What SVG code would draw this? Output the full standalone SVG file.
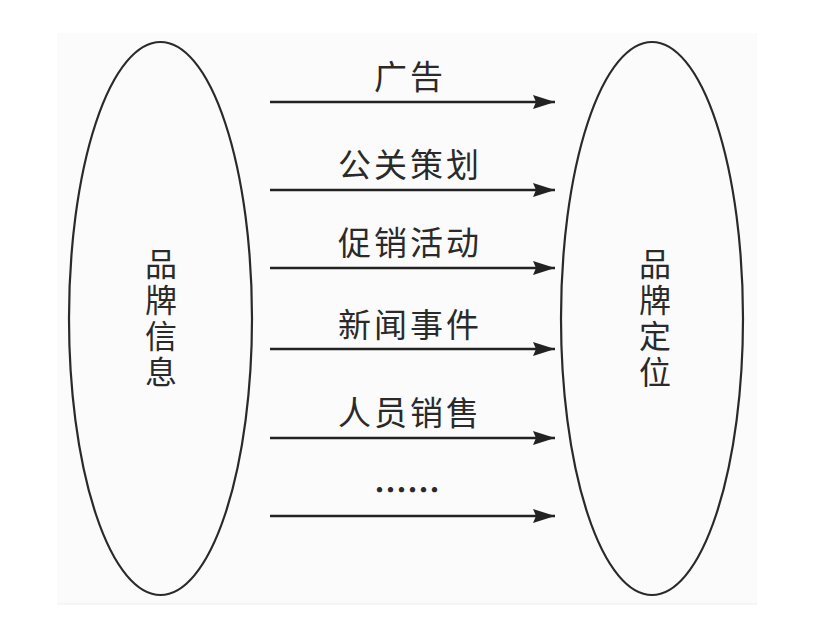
<svg xmlns="http://www.w3.org/2000/svg" width="815" height="640" viewBox="0 0 815 640">
<defs>
<style>
.ell{fill:none;stroke:#2a2a2a;stroke-width:2.2}
.arr{stroke:#222;stroke-width:2.6;fill:none;marker-end:url(#ah)}
.lbl{font-family:"Noto Sans CJK SC","Noto Sans",sans-serif;font-size:33px;fill:#2a2a2a;text-anchor:middle;letter-spacing:3px}
.vl{font-family:"Noto Sans CJK SC","Noto Sans",sans-serif;font-size:32px;fill:#2a2a2a;text-anchor:middle;writing-mode:vertical-rl;letter-spacing:4px}
</style>
<marker id="ah" viewBox="0 0 22 14" refX="22" refY="7" markerWidth="22" markerHeight="14" markerUnits="userSpaceOnUse" orient="auto">
<polygon points="0,0 22,7 0,14 3,7" fill="#222"/>
</marker>
</defs>
<rect x="0" y="0" width="815" height="640" fill="#ffffff"/>
<rect x="57" y="33" width="700" height="571" fill="#fbfbfb"/>
<line x1="57" y1="604" x2="757" y2="604" stroke="#efefef" stroke-width="1"/>
<g id="brand-info">
<ellipse class="ell" cx="160.5" cy="318.5" rx="91.5" ry="276.5"/>
<text class="vl" x="161" y="320">品牌信息</text>
</g>
<g id="brand-position">
<ellipse class="ell" cx="652" cy="318.5" rx="91" ry="276.5"/>
<text class="vl" x="655" y="320">品牌定位</text>
</g>
<g id="connectors">
<line class="arr" x1="270" y1="102" x2="555" y2="102"/>
<line class="arr" x1="270" y1="190" x2="555" y2="190"/>
<line class="arr" x1="270" y1="268" x2="555" y2="268"/>
<line class="arr" x1="270" y1="349" x2="555" y2="349"/>
<line class="arr" x1="270" y1="438" x2="555" y2="438"/>
<line class="arr" x1="270" y1="516" x2="555" y2="516"/>
</g>
<g id="labels">
<text class="lbl" x="410" y="89">广告</text>
<text class="lbl" x="410" y="177">公关策划</text>
<text class="lbl" x="410" y="255">促销活动</text>
<text class="lbl" x="410" y="337">新闻事件</text>
<text class="lbl" x="410" y="425">人员销售</text>
<text class="lbl" x="407" y="502" style="letter-spacing:0;font-weight:bold">……</text>
</g>
</svg>
